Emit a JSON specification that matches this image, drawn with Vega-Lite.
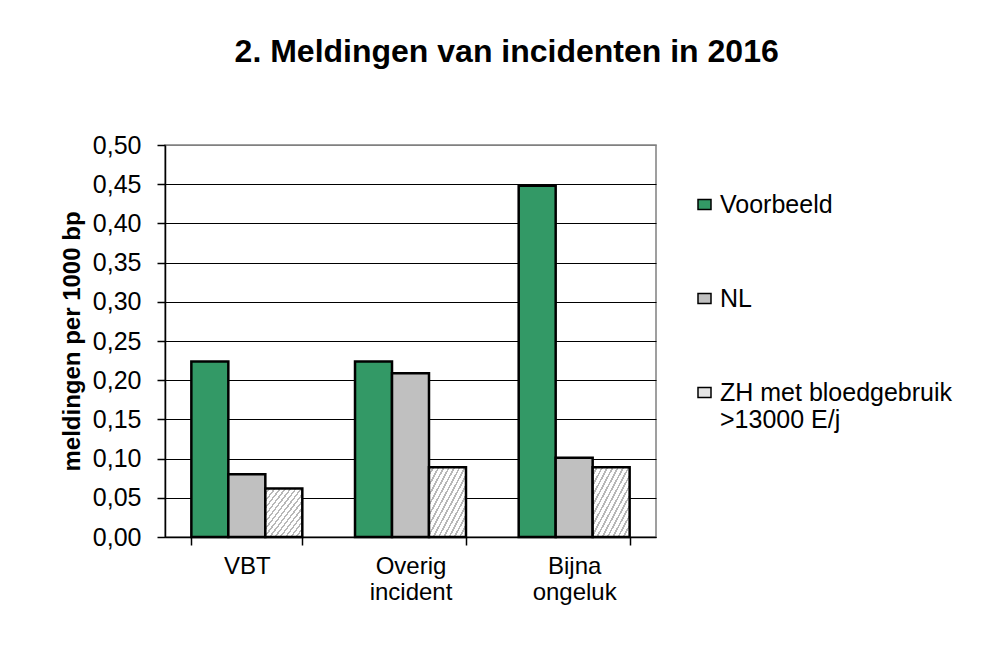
{
  "$schema": "https://vega.github.io/schema/vega-lite/v6.json",
  "width": 491,
  "height": 392,
  "autosize": {"type": "none"},
  "padding": {"left": 165, "top": 145, "right": 349, "bottom": 126},
  "background": "white",
  "title": {
    "text": "2. Meldingen van incidenten in 2016",
    "font": "Liberation Sans",
    "fontSize": 32,
    "fontWeight": "bold",
    "color": "black",
    "anchor": "middle",
    "frame": "bounds",
    "offset": 64
  },
  "data": {
    "values": [
      {"category": "VBT", "series": "Voorbeeld", "value": 0.224},
      {"category": "VBT", "series": "NL", "value": 0.080},
      {"category": "VBT", "series": "ZH met bloedgebruik >13000 E/j", "value": 0.062},
      {"category": "Overig incident", "series": "Voorbeeld", "value": 0.224},
      {"category": "Overig incident", "series": "NL", "value": 0.209},
      {"category": "Overig incident", "series": "ZH met bloedgebruik >13000 E/j", "value": 0.089},
      {"category": "Bijna ongeluk", "series": "Voorbeeld", "value": 0.448},
      {"category": "Bijna ongeluk", "series": "NL", "value": 0.101},
      {"category": "Bijna ongeluk", "series": "ZH met bloedgebruik >13000 E/j", "value": 0.089}
    ]
  },
  "mark": {"type": "bar", "stroke": "black", "strokeWidth": 2.5},
  "encoding": {
    "x": {
      "field": "category",
      "type": "nominal",
      "sort": ["VBT", "Overig incident", "Bijna ongeluk"],
      "scale": {"paddingInner": 0.322, "paddingOuter": 0.161},
      "axis": {
        "title": null,
        "labelAngle": 0,
        "labelFont": "Liberation Sans",
        "labelFontSize": 24,
        "labelColor": "black",
        "labelLineHeight": 26,
        "labelPadding": 9,
        "labelExpr": "split(datum.label, ' ')",
        "tickBand": "extent",
        "tickSize": 8,
        "tickColor": "black",
        "tickWidth": 1.5,
        "domainColor": "black",
        "domainWidth": 1.5,
        "grid": false
      }
    },
    "xOffset": {
      "field": "series",
      "type": "nominal",
      "sort": ["Voorbeeld", "NL", "ZH met bloedgebruik >13000 E/j"],
      "scale": {"paddingInner": 0, "paddingOuter": 0}
    },
    "y": {
      "field": "value",
      "type": "quantitative",
      "scale": {"domain": [0, 0.5], "nice": false},
      "axis": {
        "title": "meldingen per 1000 bp",
        "titleFont": "Liberation Sans",
        "titleFontSize": 24,
        "titleFontWeight": "bold",
        "titleColor": "black",
        "titlePadding": 8,
        "values": [0, 0.05, 0.1, 0.15, 0.2, 0.25, 0.3, 0.35, 0.4, 0.45, 0.5],
        "labelExpr": "replace(format(datum.value, '.2f'), '.', ',')",
        "labelFont": "Liberation Sans",
        "labelFontSize": 25,
        "labelColor": "black",
        "labelPadding": 16,
        "tickSize": 8,
        "tickColor": "black",
        "tickWidth": 1.5,
        "domainColor": "black",
        "domainWidth": 1.5,
        "grid": true,
        "gridColor": {"condition": {"test": "datum.value >= 0.5", "value": "#808080"}, "value": "black"},
        "gridWidth": 1.2,
        "gridOpacity": 1
      }
    },
    "fill": {
      "condition": {
        "test": "datum.series === 'ZH met bloedgebruik >13000 E/j'",
        "value": {
          "gradient": "linear",
          "x1": 0, "y1": 0, "x2": 1, "y2": 1,
          "stops": [
            {"offset": 0, "color": "#ffffff"}, {"offset": 0.0464, "color": "#ffffff"}, {"offset": 0.0464, "color": "#b8b8b8"}, {"offset": 0.0714, "color": "#b8b8b8"},
            {"offset": 0.0714, "color": "#ffffff"}, {"offset": 0.1179, "color": "#ffffff"}, {"offset": 0.1179, "color": "#b8b8b8"}, {"offset": 0.1429, "color": "#b8b8b8"},
            {"offset": 0.1429, "color": "#ffffff"}, {"offset": 0.1893, "color": "#ffffff"}, {"offset": 0.1893, "color": "#b8b8b8"}, {"offset": 0.2143, "color": "#b8b8b8"},
            {"offset": 0.2143, "color": "#ffffff"}, {"offset": 0.2607, "color": "#ffffff"}, {"offset": 0.2607, "color": "#b8b8b8"}, {"offset": 0.2857, "color": "#b8b8b8"},
            {"offset": 0.2857, "color": "#ffffff"}, {"offset": 0.3321, "color": "#ffffff"}, {"offset": 0.3321, "color": "#b8b8b8"}, {"offset": 0.3571, "color": "#b8b8b8"},
            {"offset": 0.3571, "color": "#ffffff"}, {"offset": 0.4036, "color": "#ffffff"}, {"offset": 0.4036, "color": "#b8b8b8"}, {"offset": 0.4286, "color": "#b8b8b8"},
            {"offset": 0.4286, "color": "#ffffff"}, {"offset": 0.475, "color": "#ffffff"}, {"offset": 0.475, "color": "#b8b8b8"}, {"offset": 0.5, "color": "#b8b8b8"},
            {"offset": 0.5, "color": "#ffffff"}, {"offset": 0.5464, "color": "#ffffff"}, {"offset": 0.5464, "color": "#b8b8b8"}, {"offset": 0.5714, "color": "#b8b8b8"},
            {"offset": 0.5714, "color": "#ffffff"}, {"offset": 0.6179, "color": "#ffffff"}, {"offset": 0.6179, "color": "#b8b8b8"}, {"offset": 0.6429, "color": "#b8b8b8"},
            {"offset": 0.6429, "color": "#ffffff"}, {"offset": 0.6893, "color": "#ffffff"}, {"offset": 0.6893, "color": "#b8b8b8"}, {"offset": 0.7143, "color": "#b8b8b8"},
            {"offset": 0.7143, "color": "#ffffff"}, {"offset": 0.7607, "color": "#ffffff"}, {"offset": 0.7607, "color": "#b8b8b8"}, {"offset": 0.7857, "color": "#b8b8b8"},
            {"offset": 0.7857, "color": "#ffffff"}, {"offset": 0.8321, "color": "#ffffff"}, {"offset": 0.8321, "color": "#b8b8b8"}, {"offset": 0.8571, "color": "#b8b8b8"},
            {"offset": 0.8571, "color": "#ffffff"}, {"offset": 0.9036, "color": "#ffffff"}, {"offset": 0.9036, "color": "#b8b8b8"}, {"offset": 0.9286, "color": "#b8b8b8"},
            {"offset": 0.9286, "color": "#ffffff"}, {"offset": 0.975, "color": "#ffffff"}, {"offset": 0.975, "color": "#b8b8b8"}, {"offset": 1, "color": "#b8b8b8"}
          ]
        }
      },
      "field": "series",
      "type": "nominal",
      "sort": ["Voorbeeld", "NL", "ZH met bloedgebruik >13000 E/j"],
      "scale": {
        "domain": ["Voorbeeld", "NL", "ZH met bloedgebruik >13000 E/j"],
        "range": ["#339966", "#c0c0c0", "#e4e4e4"]
      },
      "legend": {
        "title": null,
        "orient": "none",
        "legendX": 527,
        "legendY": 47,
        "padding": 0,
        "direction": "vertical",
        "labelFont": "Liberation Sans",
        "labelFontSize": 25,
        "labelColor": "black",
        "labelLimit": 400,
        "labelOffset": 3,
        "labelBaseline": "middle",
        "labelExpr": "datum.label === 'ZH met bloedgebruik >13000 E/j' ? ['ZH met bloedgebruik', '>13000 E/j'] : datum.label",
        "symbolType": "M-1,-0.77H1V0.77H-1Z",
        "symbolSize": 169,
        "symbolStrokeColor": "black",
        "symbolStrokeWidth": 1.5,
        "symbolOpacity": 1,
        "rowPadding": 68
      }
    }
  },
  "config": {
    "view": {"stroke": "#808080", "strokeWidth": 1.5},
    "font": "Liberation Sans"
  }
}
